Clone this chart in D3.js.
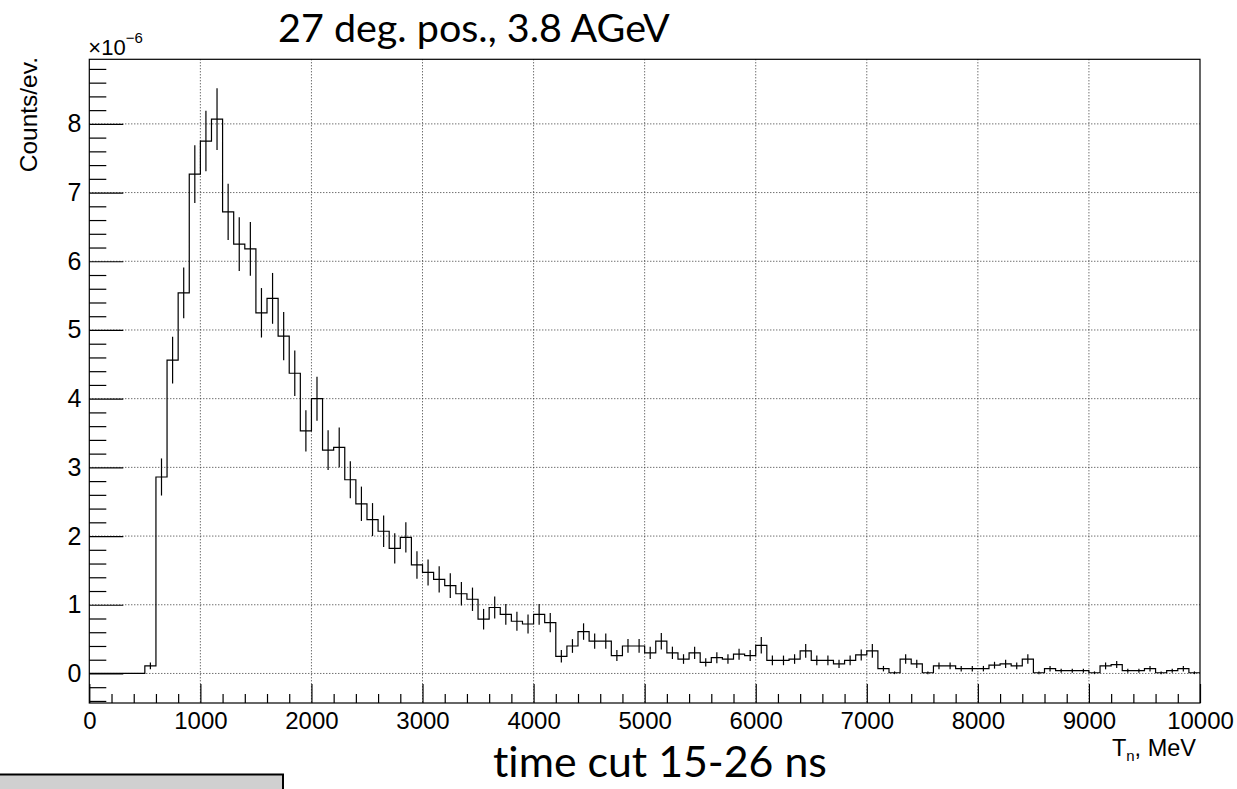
<!DOCTYPE html>
<html>
<head>
<meta charset="utf-8">
<script src="https://cdn.jsdelivr.net/npm/d3@7"></script>
<style>
  html, body { margin: 0; padding: 0; background: #fff; }
  svg { display: block; }
  text { font-variant-ligatures: none; font-feature-settings: "liga" 0, "clig" 0; }
</style>
</head>
<body>
<svg id="chart" width="1237" height="789"></svg>
<script>
// ---------------- DATA ----------------
const binWidth = 100;            // MeV per bin
const xMin = 0, xMax = 10000;    // MeV
// counts per event, in units of 1e-6, one entry per 100 MeV bin (0..10000)
const counts = [
  0, 0, 0, 0, 0, 0.11, 2.86, 4.56, 5.54, 7.27,
  7.75, 8.07, 6.72, 6.25, 6.18, 5.25, 5.46, 4.91, 4.37, 3.53,
  4.00, 3.25, 3.29, 2.82, 2.47, 2.24, 2.07, 1.82, 1.98, 1.58,
  1.47, 1.37, 1.28, 1.16, 1.08, 0.79, 0.96, 0.86, 0.76, 0.72,
  0.86, 0.74, 0.25, 0.40, 0.61, 0.47, 0.47, 0.26, 0.40, 0.40,
  0.30, 0.47, 0.30, 0.21, 0.30, 0.16, 0.23, 0.21, 0.28, 0.26,
  0.41, 0.19, 0.19, 0.21, 0.33, 0.19, 0.19, 0.14, 0.19, 0.27,
  0.33, 0.07, 0.01, 0.21, 0.14, 0.01, 0.11, 0.11, 0.07, 0.07,
  0.07, 0.12, 0.14, 0.11, 0.21, 0.01, 0.07, 0.04, 0.04, 0.04,
  0.01, 0.11, 0.13, 0.04, 0.04, 0.07, 0.01, 0.04, 0.07, 0.01
];
const errors = [
  0, 0, 0, 0, 0, 0.05, 0.27, 0.34, 0.37, 0.42,
  0.44, 0.45, 0.41, 0.39, 0.39, 0.36, 0.37, 0.35, 0.33, 0.30,
  0.32, 0.29, 0.29, 0.27, 0.25, 0.24, 0.23, 0.22, 0.22, 0.20,
  0.19, 0.19, 0.18, 0.17, 0.17, 0.15, 0.16, 0.15, 0.14, 0.14,
  0.15, 0.14, 0.09, 0.10, 0.12, 0.11, 0.11, 0.08, 0.10, 0.10,
  0.09, 0.12, 0.09, 0.07, 0.09, 0.06, 0.08, 0.07, 0.08, 0.08,
  0.12, 0.07, 0.07, 0.07, 0.10, 0.07, 0.07, 0.06, 0.07, 0.08,
  0.10, 0.04, 0.02, 0.07, 0.06, 0.02, 0.05, 0.05, 0.04, 0.04,
  0.04, 0.05, 0.06, 0.05, 0.07, 0.02, 0.04, 0.03, 0.03, 0.03,
  0.02, 0.05, 0.05, 0.03, 0.03, 0.04, 0.02, 0.03, 0.04, 0.02
];
const xMajorTicks = [0, 1000, 2000, 3000, 4000, 5000, 6000, 7000, 8000, 9000, 10000];
const xTickLabels = ["0", "1000", "2000", "3000", "4000", "5000", "6000", "7000", "8000", "9000", "10000"];
const yMajorTicks = [0, 1, 2, 3, 4, 5, 6, 7, 8];
const yTickLabels = ["0", "1", "2", "3", "4", "5", "6", "7", "8"];
const yDomain = [-0.43, 8.94];
const titleText = "27 deg. pos., 3.8 AGeV";
const bottomText = "time cut 15-26 ns";
const yAxisTitle = "Counts/ev.";

// ---------------- LAYOUT ----------------
const svg = d3.select("#chart");
const frame = { left: 89.3, right: 1200, top: 59.3, bottom: 703 };
const x = d3.scaleLinear().domain([xMin, xMax]).range([frame.left, frame.right]);
const y = d3.scaleLinear().domain(yDomain).range([frame.bottom, frame.top]);
const axisFont = "'Liberation Sans', Arial, Helvetica, sans-serif";
const slideFont = "Lato, 'Open Sans', sans-serif";

// minor ticks (every 1/5 of a major division)
const xMinorTicks = d3.range(xMin, xMax + 1, 200).filter(v => v % 1000 !== 0);
const yMinorTicks = d3.range(-0.4, 8.9, 0.2).map(v => +v.toFixed(1)).filter(v => Math.abs(v - Math.round(v)) > 1e-6);

// ---------------- GRID ----------------
const grid = svg.append("g").attr("stroke", "#333").attr("stroke-width", 1).attr("stroke-dasharray", "1,2");
grid.selectAll("line.gx").data(xMajorTicks.filter(v => v > xMin && v < xMax)).join("line")
  .attr("x1", d => x(d)).attr("x2", d => x(d)).attr("y1", frame.top).attr("y2", frame.bottom);
grid.selectAll("line.gy").data(yMajorTicks).join("line")
  .attr("x1", frame.left).attr("x2", frame.right).attr("y1", d => y(d)).attr("y2", d => y(d));

// ---------------- HISTOGRAM ----------------
const stepPts = counts.map((v, i) => [xMin + i * binWidth, v]);
stepPts.push([xMax, counts[counts.length - 1]]);
const stepLine = d3.line().x(d => x(d[0])).y(d => y(d[1])).curve(d3.curveStepAfter);
svg.append("path").attr("d", stepLine(stepPts))
  .attr("fill", "none").attr("stroke", "#000").attr("stroke-width", 1.2);

// error bars
svg.append("g").selectAll("line").data(counts.map((v, i) => ({ v, e: errors[i], c: xMin + (i + 0.5) * binWidth })).filter(d => d.v > 0))
  .join("line")
  .attr("x1", d => x(d.c)).attr("x2", d => x(d.c))
  .attr("y1", d => y(d.v - d.e)).attr("y2", d => y(d.v + d.e))
  .attr("stroke", "#000").attr("stroke-width", 1.2);

// ---------------- FRAME & AXES ----------------
svg.append("rect").attr("x", frame.left).attr("y", frame.top)
  .attr("width", frame.right - frame.left).attr("height", frame.bottom - frame.top)
  .attr("fill", "none").attr("stroke", "#000").attr("stroke-width", 1.2);

function styleAxis(size) {
  return g => {
    g.select(".domain").remove();
    g.selectAll(".tick line").attr("stroke", "#000").attr("stroke-width", 1.2);
    g.selectAll("text").attr("font-family", axisFont).attr("font-size", size).attr("fill", "#000");
  };
}

// y axis: minor + major ticks, pointing inward
svg.append("g").attr("transform", `translate(${frame.left},0)`)
  .call(d3.axisLeft(y).tickValues(yMinorTicks).tickSize(-17).tickFormat(""))
  .call(styleAxis(25));
svg.append("g").attr("transform", `translate(${frame.left},0)`)
  .call(d3.axisLeft(y).tickValues(yMajorTicks).tickSize(-34).tickPadding(8)
        .tickFormat((d, i) => yTickLabels[i]))
  .call(styleAxis(25));

// x axis
svg.append("g").attr("transform", `translate(0,${frame.bottom})`)
  .call(d3.axisBottom(x).tickValues(xMinorTicks).tickSize(-9).tickFormat(""))
  .call(styleAxis(24));
svg.append("g").attr("transform", `translate(0,${frame.bottom})`)
  .call(d3.axisBottom(x).tickValues(xMajorTicks).tickSize(-19).tickPadding(9)
        .tickFormat((d, i) => xTickLabels[i]))
  .call(styleAxis(24));

// ×10^-6 multiplier
const mult = svg.append("text").attr("x", frame.left - 1).attr("y", 55)
  .attr("font-family", axisFont).attr("font-size", 22).attr("fill", "#000");
mult.append("tspan").text("×10");
mult.append("tspan").attr("dy", -12).attr("font-size", 15).text("−6");

// axis titles
svg.append("text").attr("transform", "translate(37,57) rotate(-90)")
  .attr("text-anchor", "end").attr("font-family", axisFont).attr("font-size", 24.5)
  .attr("fill", "#000").text(yAxisTitle);

const xt = svg.append("text").attr("x", 1196).attr("y", 756).attr("text-anchor", "end")
  .attr("font-family", axisFont).attr("font-size", 23.5).attr("fill", "#000");
xt.append("tspan").text("T");
xt.append("tspan").attr("font-size", 15).attr("dy", 5).text("n");
xt.append("tspan").attr("dy", -5).text(", MeV");

// ---------------- SLIDE ANNOTATIONS ----------------
function fitText(sel, targetWidth, baseSize) {
  sel.attr("font-size", baseSize);
  const w = sel.node().getComputedTextLength();
  if (w > 0) sel.attr("font-size", baseSize * targetWidth / w);
}
const title = svg.append("text").attr("x", 278).attr("y", 42)
  .attr("font-family", slideFont).attr("fill", "#000").text(titleText);
fitText(title, 392, 38);

const bottom = svg.append("text").attr("x", 493).attr("y", 777)
  .attr("font-family", slideFont).attr("fill", "#000").text(bottomText);
fitText(bottom, 334, 32);

// partially visible grey box at lower left
svg.append("rect").attr("x", -3).attr("y", 774.5).attr("width", 286).attr("height", 30)
  .attr("fill", "#d0d0d0").attr("stroke", "#000").attr("stroke-width", 2);
</script>
</body>
</html>
